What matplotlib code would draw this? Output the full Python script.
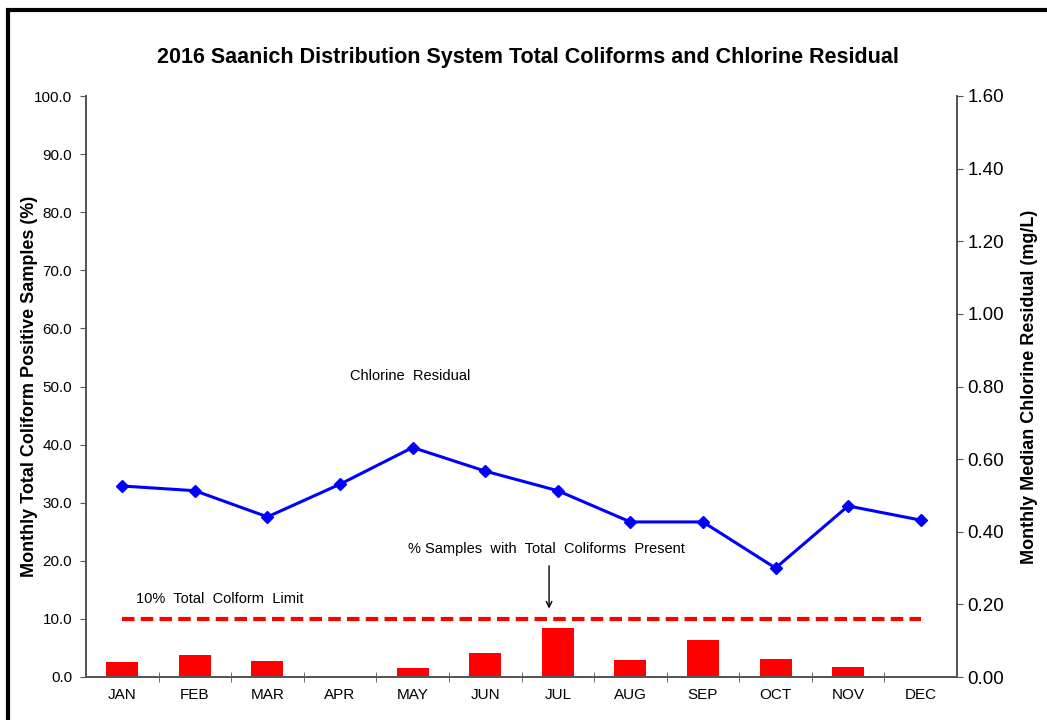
import numpy as np
import matplotlib
matplotlib.use('Agg')
import matplotlib.pyplot as plt
from matplotlib.patches import Rectangle

plt.rcParams['font.family'] = ['Liberation Sans', 'DejaVu Sans']

# data
months = ['JAN', 'FEB', 'MAR', 'APR', 'MAY', 'JUN', 'JUL', 'AUG', 'SEP', 'OCT', 'NOV', 'DEC']
coliform_pct = [2.6, 3.8, 2.8, 0.0, 1.6, 4.2, 8.4, 2.9, 6.4, 3.1, 1.7, 0.0]
chlorine = [0.526, 0.513, 0.441, 0.531, 0.632, 0.567, 0.513, 0.427, 0.427, 0.30, 0.471, 0.432]
limit_pct = 10.0
left_ticks = np.arange(0, 101, 10)
right_ticks = np.arange(0, 1.61, 0.2)

fig = plt.figure(figsize=(10.47, 7.2), dpi=100)
# outer frame (only top and left edges are visible)
fig.patches.append(Rectangle((8 / 1047, -0.1), 1.2, 1.1 - 9.5 / 720,
                             transform=fig.transFigure, fill=False,
                             edgecolor='black', linewidth=3, zorder=0))

ax = fig.add_axes([86 / 1047, 43 / 720, 871 / 1047, 581 / 720])
x = np.arange(len(months))
grey = '#555555'

ax.bar(x, coliform_pct, width=0.44, color='#ff0000', zorder=2)
ax.plot([x[0], x[-1]], [limit_pct, limit_pct], color='#ff0000', lw=3,
        dashes=(3, 1.5), zorder=3)

ax.set_xlim(-0.5, len(months) - 0.5)
ax.set_ylim(0, 100)
ax.set_yticks(left_ticks)
ax.set_yticklabels(['%.1f' % v for v in left_ticks], fontsize=11)
ax.set_xticks(x)
ax.set_xticklabels(months, fontsize=11)
ax.set_xticks(np.arange(0.5, len(months) - 0.5, 1), minor=True)
ax.tick_params(axis='x', which='major', length=0, pad=8)
ax.tick_params(axis='x', which='minor', length=7, direction='inout', color=grey)
ax.tick_params(axis='y', length=4, direction='out', color=grey, pad=6)
ax.set_ylabel('Monthly Total Coliform Positive Samples (%)', fontsize=13,
              fontweight='bold', va='center')
ax.yaxis.set_label_coords((30 - 86) / 871, 0.5)
ax.spines['top'].set_visible(False)
for s in ['left', 'bottom', 'right']:
    ax.spines[s].set_color(grey)
    ax.spines[s].set_linewidth(1.3)

ax2 = ax.twinx()
ax2.plot(x, chlorine, color='#0000ff', lw=2.2, marker='D', markersize=6.5, zorder=4)
ax2.set_ylim(0, 1.6)
ax2.set_yticks(right_ticks)
ax2.set_yticklabels(['%.2f' % v for v in right_ticks], fontsize=13.5)
ax2.tick_params(axis='y', length=4, direction='out', color=grey)
ax2.set_ylabel('Monthly Median Chlorine Residual (mg/L)', fontsize=13,
               fontweight='bold', va='center')
ax2.yaxis.set_label_coords((1030 - 86) / 871, 0.5)
ax2.spines['top'].set_visible(False)
for s in ['left', 'bottom', 'right']:
    ax2.spines[s].set_color(grey)
    ax2.spines[s].set_linewidth(1.3)

ax.text(3.96, 51.8, 'Chlorine  Residual', ha='center', va='center', fontsize=10.5)
ax.text(5.84, 22.0, '% Samples  with  Total  Coliforms  Present', ha='center',
        va='center', fontsize=10.5)
ax.annotate('', xy=(5.88, 11.3), xytext=(5.88, 19.6),
            arrowprops=dict(arrowstyle='->', color='black', lw=1))
ax.text(0.19, 13.4, '10%  Total  Colform  Limit', ha='left', va='center',
        fontsize=10.5)

fig.text(528 / 1047, 1 - 58 / 720,
         '2016 Saanich Distribution System Total Coliforms and Chlorine Residual',
         ha='center', va='center', fontsize=15.5, fontweight='bold')

fig.savefig('out.png', dpi=100)
